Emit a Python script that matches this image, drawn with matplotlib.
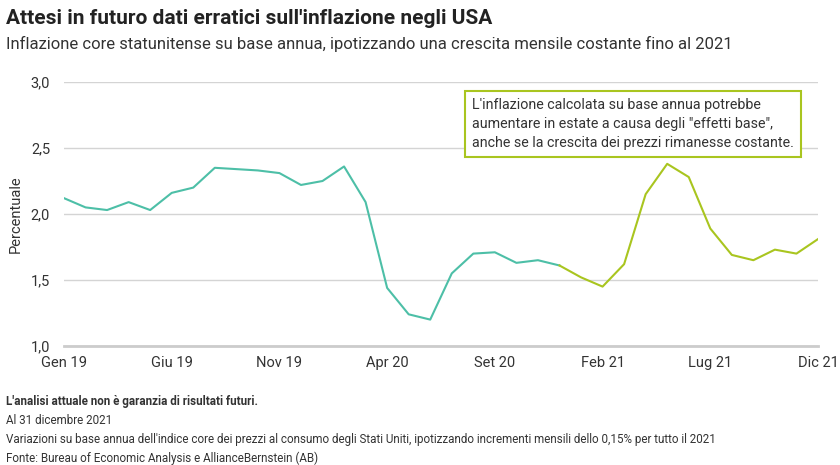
import matplotlib.pyplot as plt

# monthly core inflation YoY, Jan 2019 - Dec 2021
months = list(range(36))
inflation = [2.12, 2.05, 2.03, 2.09, 2.03, 2.16, 2.20, 2.35, 2.34, 2.33,
             2.31, 2.22, 2.25, 2.36, 2.09, 1.44, 1.24, 1.20, 1.55, 1.70,
             1.71, 1.63, 1.65, 1.61, 1.52, 1.45, 1.62, 2.15, 2.38, 2.28,
             1.89, 1.69, 1.65, 1.73, 1.70, 1.81]
split = 23  # projection starts at Dec 20

tick_pos = [0, 5, 10, 15, 20, 25, 30, 35]
tick_labels = ['Gen 19', 'Giu 19', 'Nov 19', 'Apr 20', 'Set 20', 'Feb 21', 'Lug 21', 'Dic 21']
y_ticks = [1.0, 1.5, 2.0, 2.5, 3.0]
y_labels = ['1,0', '1,5', '2,0', '2,5', '3,0']

teal = '#4dbfa7'
green = '#a9c51f'
text_col = '#333333'

plt.rcParams['font.family'] = ['Roboto', 'DejaVu Sans']

fig = plt.figure(figsize=(8.4, 4.65), dpi=100)
ax = fig.add_axes([64 / 840, 1 - 346 / 465, (818 - 64) / 840, (346 - 82) / 465])

ax.plot(months[:split + 1], inflation[:split + 1], color=teal, lw=1.5)
ax.plot(months[split:], inflation[split:], color=green, lw=1.5)

ax.set_xlim(0, 35)
ax.set_ylim(1.0, 3.0)
ax.set_yticks(y_ticks)
ax.set_yticklabels(y_labels, fontsize=10.5, color=text_col)
ax.set_xticks(tick_pos)
ax.set_xticklabels(tick_labels, fontsize=10.5, color=text_col)
ax.tick_params(length=0)
ax.tick_params(axis='y', pad=10)
ax.tick_params(axis='x', pad=7)
ax.grid(axis='y', color='#d4d4d4', lw=1)
ax.set_axisbelow(True)
for s in ['top', 'right', 'left']:
    ax.spines[s].set_visible(False)
ax.spines['bottom'].set_color('#cccccc')
ax.spines['bottom'].set_linewidth(2)
ax.set_ylabel('Percentuale', fontsize=10.5, color=text_col, labelpad=6)

fig.text(6 / 840, 1 - 18 / 465, "Attesi in futuro dati erratici sull'inflazione negli USA",
         fontsize=15, fontweight='bold', color='#222222', va='center')
fig.text(6 / 840, 1 - 44 / 465,
         "Inflazione core statunitense su base annua, ipotizzando una crescita mensile costante fino al 2021",
         fontsize=12, color=text_col, va='center')

fig.text(472 / 840, 1 - 124 / 465,
         "L'inflazione calcolata su base annua potrebbe\naumentare in estate a causa degli \"effetti base\",\n"
         "anche se la crescita dei prezzi rimanesse costante.",
         fontsize=10.3, color=text_col, va='center', linespacing=1.45,
         bbox=dict(boxstyle='square,pad=0.5', fc='white', ec=green, lw=1.5))

fig.text(6 / 840, 1 - 401 / 465, "L'analisi attuale non è garanzia di risultati futuri.",
         fontsize=8.4, fontweight='bold', color=text_col, va='center')
fig.text(6 / 840, 1 - 420 / 465, "Al 31 dicembre 2021", fontsize=8.4, color=text_col, va='center')
fig.text(6 / 840, 1 - 439 / 465,
         "Variazioni su base annua dell'indice core dei prezzi al consumo degli Stati Uniti, "
         "ipotizzando incrementi mensili dello 0,15% per tutto il 2021",
         fontsize=8.4, color=text_col, va='center')
fig.text(6 / 840, 1 - 458 / 465, "Fonte: Bureau of Economic Analysis e AllianceBernstein (AB)",
         fontsize=8.4, color=text_col, va='center')

fig.savefig('out.png', dpi=100)
